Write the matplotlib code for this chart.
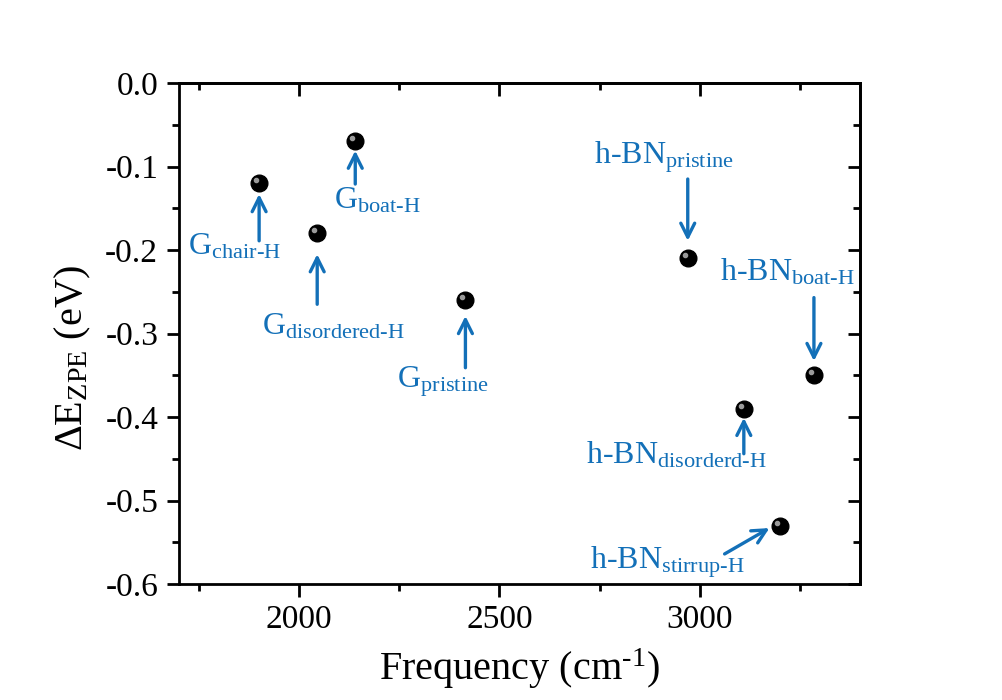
import matplotlib
matplotlib.use("Agg")
import matplotlib.pyplot as plt
from matplotlib.ticker import MultipleLocator, FuncFormatter
from matplotlib.transforms import ScaledTranslation

plt.rcParams['font.family'] = ['Liberation Serif', 'DejaVu Serif']
plt.rcParams['mathtext.fontset'] = 'custom'
plt.rcParams['mathtext.rm'] = 'Liberation Serif'
plt.rcParams['mathtext.it'] = 'Liberation Serif:italic'
plt.rcParams['mathtext.bf'] = 'Liberation Serif:bold'

# ---- data ----
frequency = [1900, 2045, 2140, 2415, 2970, 3110, 3285, 3200]
delta_e_zpe = [-0.12, -0.18, -0.07, -0.26, -0.21, -0.39, -0.35, -0.53]
main_names = ["G", "G", "G", "G", "h-BN", "h-BN", "h-BN", "h-BN"]
sub_names = ["chair-H", "disordered-H", "boat-H", "pristine",
             "pristine", "disorderd-H", "boat-H", "stirrup-H"]

# ---- layout (label baseline-left positions and arrow tail/head, data coords) ----
label_pos = [(1722, -0.205), (1906, -0.301), (2087, -0.150), (2243, -0.365),
             (2737, -0.097), (2715, -0.456), (3050, -0.237), (2725, -0.581)]
arrow_tail = [(1900, -0.189), (2045, -0.265), (2140, -0.121), (2415, -0.341),
              (2970, -0.115), (3110, -0.444), (3285, -0.257), (3062, -0.564)]
arrow_head = [(1900, -0.133), (2045, -0.205), (2140, -0.081), (2415, -0.279),
              (2970, -0.189), (3110, -0.401), (3285, -0.333), (3174, -0.533)]

blue = '#1370B8'

fig = plt.figure(figsize=(10.02, 7.0), dpi=100)
ax = fig.add_axes([179/1002, 1-584/700, (860-179)/1002, (584-83)/700])

ax.plot(frequency, delta_e_zpe, 'o', color='black', markersize=12, zorder=5)
hl = ax.transData + ScaledTranslation(-3/100, 3/100, fig.dpi_scale_trans)
ax.plot(frequency, delta_e_zpe, 'o', color='#9a9a9a', markersize=3,
        transform=hl, zorder=6)

for (lx, ly), m, s in zip(label_pos, main_names, sub_names):
    ax.text(lx, ly, m + r'$_{\text{' + s + r'}}$', color=blue, fontsize=23,
            ha='left', va='baseline')

for t, h in zip(arrow_tail, arrow_head):
    ax.annotate('', xy=h, xytext=t,
                arrowprops=dict(arrowstyle='->,head_length=1.0,head_width=0.5',
                                color=blue, lw=2.4, shrinkA=0, shrinkB=0))

ax.set_xlim(1700, 3400)
ax.set_ylim(-0.6, 0.0)
ax.xaxis.set_major_locator(MultipleLocator(500))
ax.xaxis.set_minor_locator(MultipleLocator(250))
ax.yaxis.set_major_locator(MultipleLocator(0.1))
ax.yaxis.set_minor_locator(MultipleLocator(0.05))
ax.xaxis.set_major_formatter(FuncFormatter(lambda v, p: f'{v:.0f}'))
ax.yaxis.set_major_formatter(FuncFormatter(
    lambda v, p: f'{v:.1f}'.replace('-0.0', '0.0')))

for sp in ax.spines.values():
    sp.set_linewidth(2)

ax.tick_params(which='both', labelsize=24, width=2)
ax.tick_params(axis='both', which='major', direction='out', length=9, pad=6)
ax.tick_params(axis='both', which='minor', direction='out', length=5)

# inward ticks on top and right
secx = ax.secondary_xaxis('top')
secx.xaxis.set_major_locator(MultipleLocator(500))
secx.xaxis.set_minor_locator(MultipleLocator(250))
secx.tick_params(which='major', direction='in', length=9, width=2, labeltop=False)
secx.tick_params(which='minor', direction='in', length=5, width=2)
secx.spines['top'].set_linewidth(2)
secy = ax.secondary_yaxis('right')
secy.yaxis.set_major_locator(MultipleLocator(0.1))
secy.yaxis.set_minor_locator(MultipleLocator(0.05))
secy.tick_params(which='major', direction='in', length=9, width=2, labelright=False)
secy.tick_params(which='minor', direction='in', length=5, width=2)
secy.spines['right'].set_linewidth(2)

ax.set_xlabel(r'Frequency (cm$^{\text{-1}}$)', fontsize=29, labelpad=8)
ax.set_ylabel(r'$\Delta$E$_{\text{ZPE}}$ (eV)', fontsize=29)
ax.yaxis.set_label_coords(-0.127, 0.45)

fig.savefig('out.png', dpi=100)
